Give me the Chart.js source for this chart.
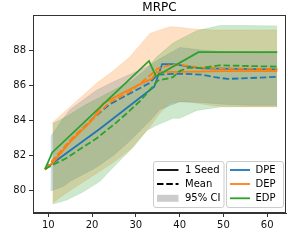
<!DOCTYPE html>
<html><head><meta charset="utf-8">
<script src="https://cdn.jsdelivr.net/npm/chart.js@4.4.1/dist/chart.umd.min.js"></script>
<style>html,body{margin:0;padding:0;background:#fff}#wrap{width:288px;height:245px}</style>
</head><body><div id="wrap"><canvas id="c" width="288" height="245"></canvas></div>
<script>
// ---- data ----
const title = 'MRPC';
const xTicks = [10, 20, 30, 40, 50, 60];
const yTicks = [80, 82, 84, 86, 88];

// DPE
const dpeSeedX = [9.25, 21.8, 34.2, 36.0, 38.5, 45, 62.3];
const dpeSeedY = [81.22, 83.5, 85.9, 87.2, 87.2, 86.95, 86.9];
const dpeMeanX = [9.25, 11, 15, 20, 24, 28.5, 33, 35, 40, 45, 48, 51, 56, 62.3];
const dpeMeanY = [81.2, 81.65, 82.8, 84.05, 84.9, 85.5, 86.1, 86.6, 86.65, 86.6, 86.45, 86.35, 86.4, 86.47];
const dpeCiX = [10.5, 13.4, 15, 21, 25, 28.6, 33, 35.5, 40, 45, 50, 56, 62.3];
const dpeCiHi = [83.05, 84.1, 84.6, 85.7, 86.2, 86.6, 87.1, 87.5, 88.15, 88.0, 87.9, 87.85, 87.8];
const dpeCiLo = [79.95, 80.2, 80.5, 81.3, 82.0, 82.8, 83.9, 84.6, 85.05, 85.0, 84.9, 84.85, 84.85];

// DEP
const depSeedX = [9.25, 11, 15, 20, 22.5, 27, 31, 33.6, 34.8, 40, 50, 62.3];
const depSeedY = [81.15, 81.55, 82.75, 84.0, 84.95, 85.55, 86.05, 86.35, 86.75, 86.75, 86.8, 86.8];
const depMeanX = [9.25, 11, 15, 20, 24, 28.5, 33, 35, 38, 40, 45, 50, 62.3];
const depMeanY = [81.2, 81.7, 82.85, 84.05, 85.0, 85.6, 86.5, 86.95, 87.15, 87.15, 87.0, 86.95, 86.92];
const depCiX = [10.9, 13.4, 17, 21, 25, 28.6, 33.2, 35.5, 37.8, 40, 43, 48, 55, 62.3];
const depCiHi = [83.85, 84.4, 85.2, 86.1, 86.85, 87.6, 88.95, 89.15, 89.33, 89.3, 89.2, 89.15, 89.15, 89.15];
const depCiLo = [79.25, 79.7, 80.3, 80.95, 81.6, 82.3, 83.6, 84.4, 84.95, 85.05, 85.0, 84.8, 84.75, 84.75];

// EDP
const edpSeedX = [9.25, 10.9, 33.0, 34.6, 44.3, 62.3];
const edpSeedY = [81.2, 82.15, 87.38, 86.5, 87.88, 87.88];
const edpMeanX = [9.25, 11.5, 14, 17, 21, 25, 28, 31, 34, 35, 38.5, 40, 42, 45, 49, 54, 62.3];
const edpMeanY = [81.2, 81.5, 81.8, 82.3, 82.95, 83.75, 84.4, 85.1, 85.95, 86.25, 86.45, 86.8, 87.0, 86.97, 87.13, 87.1, 87.05];
const edpCiX = [11.0, 14.2, 18, 21.8, 25.6, 29.4, 32.5, 34.7, 38.5, 40, 43.9, 49.2, 55, 62.3];
const edpCiHi = [83.8, 84.2, 84.8, 85.3, 85.8, 86.3, 86.95, 87.6, 88.4, 88.6, 89.1, 89.4, 89.4, 89.38];
const edpCiLo = [79.2, 79.43, 79.9, 80.5, 81.5, 82.45, 83.4, 83.7, 84.1, 84.1, 84.55, 84.75, 84.78, 84.78];

const methods = ['DPE', 'DEP', 'EDP'];
const colors = {DPE: '#1f77b4', DEP: '#ff7f0e', EDP: '#2ca02c'};
const bandColors = {DPE: 'rgba(31,119,180,0.24)', DEP: 'rgba(255,127,14,0.24)', EDP: 'rgba(44,160,44,0.24)'};
const styleLabels = ['1 Seed', 'Mean', '95% CI'];

// ---- build ----
const pts = (xs, ys) => xs.map((x, i) => ({x, y: ys[i]}));
const FONT = "'DejaVu Sans', 'Liberation Sans', sans-serif";
const DASH = [6.5, 2.8];

function lineDs(label, xs, ys, color, dashed) {
  return {label, data: pts(xs, ys), borderColor: color, borderWidth: 1.8,
    borderDash: dashed ? DASH : [], pointRadius: 0, fill: false, tension: 0, order: 0,
    borderCapStyle: 'butt', borderJoinStyle: 'miter'};
}
function bandDs(label, xs, hi, lo, fillColor) {
  return [
    {label: label + ' hi', data: pts(xs, hi), borderColor: fillColor, borderWidth: 0.6,
      backgroundColor: fillColor, fill: '+1', pointRadius: 0, tension: 0, order: 1},
    {label: label + ' lo', data: pts(xs, lo), borderColor: fillColor, borderWidth: 0.6,
      fill: false, pointRadius: 0, tension: 0, order: 1}
  ];
}

const datasets = [
  lineDs('EDP 1 Seed', edpSeedX, edpSeedY, colors.EDP, false),
  lineDs('EDP Mean', edpMeanX, edpMeanY, colors.EDP, true),
  lineDs('DEP 1 Seed', depSeedX, depSeedY, colors.DEP, false),
  lineDs('DEP Mean', depMeanX, depMeanY, colors.DEP, true),
  lineDs('DPE 1 Seed', dpeSeedX, dpeSeedY, colors.DPE, false),
  lineDs('DPE Mean', dpeMeanX, dpeMeanY, colors.DPE, true),
  ...bandDs('EDP CI', edpCiX, edpCiHi, edpCiLo, bandColors.EDP),
  ...bandDs('DEP CI', depCiX, depCiHi, depCiLo, bandColors.DEP),
  ...bandDs('DPE CI', dpeCiX, dpeCiHi, dpeCiLo, bandColors.DPE),
];

const frame = {
  id: 'frame',
  afterDatasetsDraw(chart) {
    const {ctx, chartArea: a} = chart;
    ctx.save();
    ctx.strokeStyle = '#333'; ctx.lineWidth = 1;
    ctx.strokeRect(Math.round(a.left) + 0.5, Math.round(a.top) + 0.5,
      Math.round(a.right - a.left) - 1, Math.round(a.bottom - a.top) - 1);
    ctx.restore();
  }
};

function roundRect(ctx, x, y, w, h, r) {
  ctx.beginPath();
  ctx.moveTo(x + r, y); ctx.lineTo(x + w - r, y); ctx.quadraticCurveTo(x + w, y, x + w, y + r);
  ctx.lineTo(x + w, y + h - r); ctx.quadraticCurveTo(x + w, y + h, x + w - r, y + h);
  ctx.lineTo(x + r, y + h); ctx.quadraticCurveTo(x, y + h, x, y + h - r);
  ctx.lineTo(x, y + r); ctx.quadraticCurveTo(x, y, x + r, y); ctx.closePath();
}

const legends = {
  id: 'legends',
  afterDraw(chart) {
    const ctx = chart.ctx;
    ctx.save();
    const rows = [170, 184, 198.3];
    const boxes = [{x: 153.5, w: 70.5, hx0: 157, hx1: 178.5, tx: 185},
                   {x: 226.5, w: 57, hx0: 230, hx1: 250, tx: 255.5}];
    boxes.forEach(b => {
      roundRect(ctx, b.x, 161.5, b.w, 46, 2.5);
      ctx.fillStyle = 'rgba(255,255,255,0.85)'; ctx.fill();
      ctx.strokeStyle = '#cccccc'; ctx.lineWidth = 1; ctx.stroke();
    });
    ctx.font = '10px ' + FONT; ctx.textBaseline = 'middle'; ctx.textAlign = 'left';
    const b0 = boxes[0];
    ctx.strokeStyle = '#000'; ctx.lineWidth = 1.8;
    ctx.setLineDash([]); ctx.beginPath(); ctx.moveTo(b0.hx0, rows[0]); ctx.lineTo(b0.hx1, rows[0]); ctx.stroke();
    ctx.setLineDash(DASH); ctx.beginPath(); ctx.moveTo(b0.hx0, rows[1]); ctx.lineTo(b0.hx1, rows[1]); ctx.stroke();
    ctx.setLineDash([]);
    ctx.fillStyle = 'rgba(0,0,0,0.2)'; ctx.fillRect(b0.hx0, rows[2] - 3.5, b0.hx1 - b0.hx0, 7);
    ctx.fillStyle = '#000';
    styleLabels.forEach((t, i) => ctx.fillText(t, b0.tx, rows[i] + 0.5));
    const b1 = boxes[1];
    methods.forEach((m, i) => {
      ctx.strokeStyle = colors[m]; ctx.lineWidth = 1.8;
      ctx.beginPath(); ctx.moveTo(b1.hx0, rows[i]); ctx.lineTo(b1.hx1, rows[i]); ctx.stroke();
      ctx.fillStyle = '#000'; ctx.fillText(m, b1.tx, rows[i] + 0.5);
    });
    ctx.restore();
  }
};

const axisCommon = {
  type: 'linear',
  grid: {drawOnChartArea: false, drawTicks: true, tickLength: 4, color: '#333', lineWidth: 1},
  border: {display: true, color: '#333', width: 1},
  ticks: {font: {family: FONT, size: 10}, color: '#111', autoSkip: false, maxRotation: 0}
};

new Chart(document.getElementById('c'), {
  type: 'line',
  data: {datasets},
  options: {
    responsive: false, animation: false, devicePixelRatio: 1,
    layout: {padding: {top: 0, right: 2, left: 0, bottom: 0}},
    plugins: {
      legend: {display: false}, tooltip: {enabled: false},
      title: {display: true, text: title, fullSize: false, color: '#000',
        font: {family: FONT, size: 12, weight: 'normal'}, padding: {top: 1, bottom: 0}},
      filler: {propagate: false}
    },
    scales: {
      x: {...axisCommon, position: 'bottom', min: 6.5, max: 64.3,
        ticks: {...axisCommon.ticks, padding: 2},
        afterBuildTicks: s => { s.ticks = xTicks.map(v => ({value: v})); },
        afterFit: s => { s.height = 32; }},
      y: {...axisCommon, position: 'left', min: 78.69, max: 89.98,
        ticks: {...axisCommon.ticks, padding: 3},
        afterBuildTicks: s => { s.ticks = yTicks.map(v => ({value: v})); },
        afterFit: s => { s.width = 33; }}
    }
  },
  plugins: [frame, legends]
});
</script></body></html>
